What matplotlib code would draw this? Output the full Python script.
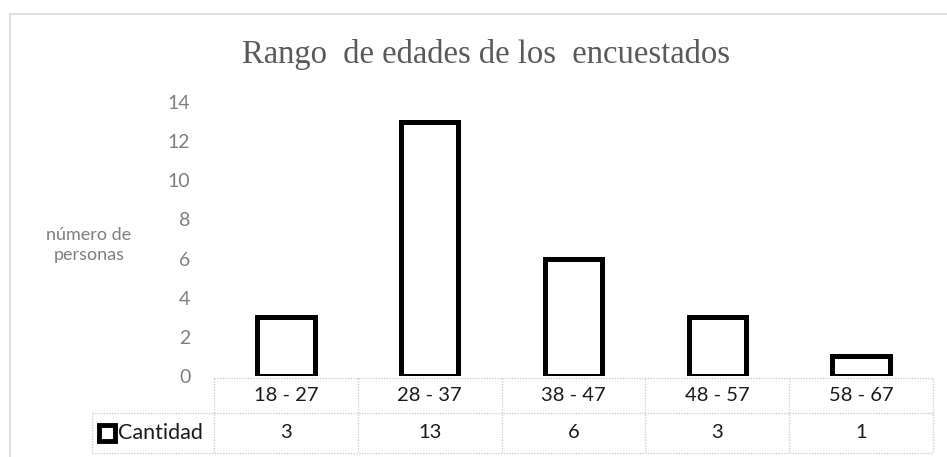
import matplotlib
matplotlib.use("Agg")
import matplotlib.pyplot as plt
from matplotlib.patches import Rectangle
from matplotlib.lines import Line2D
import matplotlib.transforms as mtransforms

categories = ["18 - 27", "28 - 37", "38 - 47", "48 - 57", "58 - 67"]
values = [3, 13, 6, 3, 1]
series_name = "Cantidad"
yticks = [0, 2, 4, 6, 8, 10, 12, 14]
title = "Rango  de edades de los  encuestados"
ylabel = "número de\npersonas"

W, H = 947, 457
fig = plt.figure(figsize=(W / 100, H / 100), dpi=100)
fig.patch.set_facecolor("white")

def fx(px):
    return px / W

def fy(py):
    return 1 - py / H

# outer chart border (top and left visible)
fig.add_artist(Line2D([fx(10), fx(947)], [fy(14), fy(14)], color="#d9d9d9", lw=1.2))
fig.add_artist(Line2D([fx(10), fx(10)], [fy(14), fy(457)], color="#d9d9d9", lw=1.2))

left, right = 214, 933
top, bottom = 102, 376
ax = fig.add_axes([fx(left), fy(bottom), fx(right) - fx(left), fy(top) - fy(bottom)])
ax.set_xlim(-0.5, len(categories) - 0.5)
ax.set_ylim(0, 14)
for s in ax.spines.values():
    s.set_visible(False)
ax.set_xticks([])
ax.set_yticks(yticks)
ax.tick_params(axis="y", length=0, pad=17, labelcolor="#7f7f7f", labelsize=14)
for lab in ax.get_yticklabels():
    lab.set_fontfamily("Lato")
ax.patch.set_alpha(0)

xs = list(range(len(categories)))
ax.bar(xs, values, width=0.4, facecolor="white", edgecolor="black", linewidth=3.6)

fig.text(fx(486), fy(54), title, ha="center", va="center", fontsize=23.5,
         family="Liberation Serif", color="#595959")
fig.text(fx(89), fy(245), ylabel, ha="center", va="center", fontsize=13,
         family="Lato", color="#7f7f7f", linespacing=1.35)

# data table
tcol = "#c8d3c8"
row0, row1, row2 = 378, 413, 453
trans = mtransforms.blended_transform_factory(ax.transData, fig.transFigure)
for i in range(len(categories) + 1):
    xb = i - 0.5
    fig.add_artist(Line2D([xb, xb], [fy(row0), fy(row2)], transform=trans,
                          color=tcol, lw=1, ls=(0, (1, 1))))
fig.add_artist(Line2D([fx(left), fx(right)], [fy(row0), fy(row0)], color=tcol, lw=1, ls=(0, (1, 1))))
fig.add_artist(Line2D([fx(92), fx(right)], [fy(row1), fy(row1)], color=tcol, lw=1, ls=(0, (1, 1))))
fig.add_artist(Line2D([fx(92), fx(right)], [fy(row2), fy(row2)], color=tcol, lw=1, ls=(0, (1, 1))))
fig.add_artist(Line2D([fx(92), fx(92)], [fy(row1), fy(row2)], color=tcol, lw=1, ls=(0, (1, 1))))

for i, (c, v) in enumerate(zip(categories, values)):
    ax.text(i, fy((row0 + row1) / 2), c, transform=trans, ha="center", va="center",
            fontsize=14.5, family="Lato", color="#1a1a1a")
    ax.text(i, fy((row1 + row2) / 2), str(v), transform=trans, ha="center", va="center",
            fontsize=14.5, family="Lato", color="#1a1a1a")

# legend key
fig.add_artist(Rectangle((fx(99), fy(441)), fx(16), fy(425) - fy(441), transform=fig.transFigure,
                         facecolor="white", edgecolor="black", lw=3.5))
fig.text(fx(118), fy(433), series_name, ha="left", va="center", fontsize=15.5,
         family="Lato", color="#1a1a1a")

fig.savefig("out.png", dpi=100)
